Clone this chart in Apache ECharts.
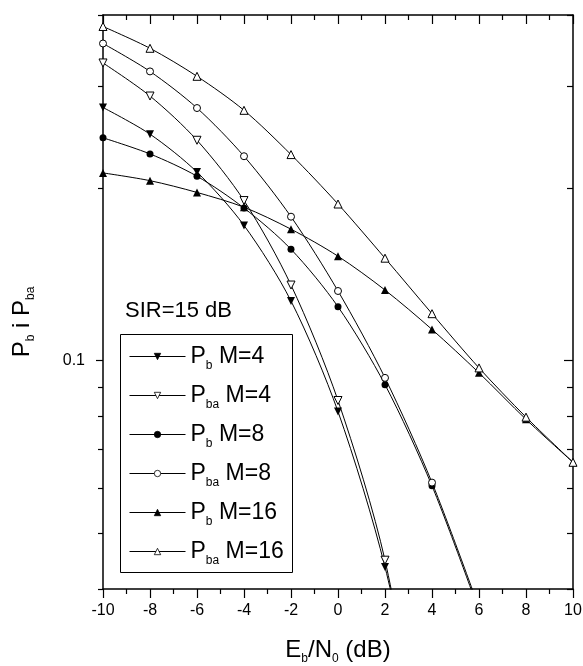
<!DOCTYPE html>
<html>
<head>
<meta charset="utf-8">
<script src="https://cdn.jsdelivr.net/npm/echarts@6/dist/echarts.min.js"></script>
<style>
  html, body { margin: 0; padding: 0; background: #fff; }
  #main { width: 583px; height: 666px; }
</style>
</head>
<body>
<div id="main"></div>
<script>
// Eb/N0 (dB)
var ebn0 = [-10, -8, -6, -4, -2, 0, 2, 4, 6, 8, 10];
// values (last points run off the bottom of the axis)
var pbM4   = [0.276, 0.248, 0.213, 0.172, 0.127, 0.0815, 0.0437, 0.018];
var pbaM4  = [0.330, 0.289, 0.242, 0.190, 0.1354, 0.0852, 0.0449, 0.016];
var pbM8   = [0.2444, 0.2291, 0.2095, 0.1844, 0.1563, 0.1241, 0.0908, 0.0605, 0.0366];
var pbaM8  = [0.3568, 0.319, 0.2754, 0.227, 0.1781, 0.1322, 0.0933, 0.0613, 0.0371];
var pbM16  = [0.2123, 0.2058, 0.1963, 0.185, 0.1694, 0.152, 0.1327, 0.1133, 0.0952, 0.079, 0.0665];
var pbaM16 = [0.382, 0.350, 0.3128, 0.2729, 0.2285, 0.1874, 0.1508, 0.1207, 0.0971, 0.0797, 0.0665];

var yMajor = [0.1];
var yMinor = [0.04, 0.05, 0.06, 0.07, 0.08, 0.09, 0.2, 0.3, 0.4];

var FONT = 'Liberation Sans, Arial, sans-serif';
var downTri = 'path://M0,0 L10,0 L5,9 Z';
var upTri = 'path://M5,0 L10,9 L0,9 Z';

function pairs(vals) {
  return vals.map(function (v, i) { return [ebn0[i], v]; });
}

function subRich(big) {
  return {
    p: { fontSize: big, fontFamily: FONT, color: '#000', lineHeight: 30, verticalAlign: 'middle' },
    s: { fontSize: 12, fontFamily: FONT, color: '#000', lineHeight: 30, verticalAlign: 'bottom' }
  };
}
function subRichFill(big) {
  var r = subRich(big);
  r.p.fill = '#000';
  r.s.fill = '#000';
  return r;
}

var legendText = {
  'Pb M=4':   '{p|P}{s|b}{p| M=4}',
  'Pba M=4':  '{p|P}{s|ba}{p| M=4}',
  'Pb M=8':   '{p|P}{s|b}{p| M=8}',
  'Pba M=8':  '{p|P}{s|ba}{p| M=8}',
  'Pb M=16':  '{p|P}{s|b}{p| M=16}',
  'Pba M=16': '{p|P}{s|ba}{p| M=16}'
};

function mkSeries(name, vals, symbol, open, size) {
  return {
    name: name,
    type: 'line',
    data: pairs(vals),
    smooth: 0.3,
    symbol: symbol,
    symbolSize: size,
    showAllSymbol: true,
    lineStyle: { color: '#000', width: 1 },
    itemStyle: open ? { color: '#fff', borderColor: '#000', borderWidth: 1 } : { color: '#000', borderColor: '#000', borderWidth: 0 },
    emphasis: { disabled: true }
  };
}

function yAxisDef(pos, ticks, isMajor, inside, showLine, showLabel) {
  return {
    type: 'log',
    logBase: 10,
    position: pos,
    min: 0.04,
    max: 0.4,
    axisLine: { show: showLine, onZero: false, lineStyle: { color: '#000', width: 1.5 } },
    axisTick: { show: true, inside: inside, customValues: ticks, length: isMajor ? (inside ? 9 : 7) : (inside ? 6 : 5), lineStyle: { color: '#000', width: 1.2 } },
    axisLabel: showLabel ? {
      show: true, customValues: [0.1], margin: 18, color: '#000', fontSize: 16, fontFamily: FONT,
      formatter: function (v) { return '0.1'; }
    } : { show: false },
    splitLine: { show: false },
    minorTick: { show: false }
  };
}

var chart = echarts.init(document.getElementById('main'));

var option = {
  animation: false,
  backgroundColor: '#fff',
  grid: { left: 103, right: 10, top: 15, bottom: 77, containLabel: false, outerBoundsMode: 'none' },
  legend: {
    orient: 'vertical',
    left: 129,
    top: 345,
    padding: 0,
    itemWidth: 56,
    itemHeight: 8,
    itemGap: 12.5,
    data: ['Pb M=4', 'Pba M=4', 'Pb M=8', 'Pba M=8', 'Pb M=16', 'Pba M=16'],
    formatter: function (name) { return legendText[name]; },
    lineStyle: { width: 1 },
    itemStyle: { borderWidth: 0.8 },
    textStyle: { rich: subRich(23) }
  },
  graphic: [
    {
      type: 'rect',
      shape: { x: 120.5, y: 334.5, width: 172, height: 238 },
      style: { fill: 'none', stroke: '#000', lineWidth: 1 }
    },
    {
      type: 'text',
      left: 125,
      top: 300,
      style: { text: 'SIR=15 dB', fontSize: 22, fontFamily: FONT, fill: '#000' }
    },
    {
      // y axis title
      type: 'text',
      x: 22,
      y: 322,
      rotation: Math.PI / 2,
      style: {
        text: '{p|P}{s|b}{p| i P}{s|ba}',
        rich: subRichFill(24),
        align: 'center',
        verticalAlign: 'middle'
      }
    }
  ],
  xAxis: [
    {
      type: 'value',
      position: 'bottom',
      min: -10,
      max: 10,
      interval: 2,
      name: '{p|E}{s|b}{p|/N}{s|0}{p| (dB)}',
      nameLocation: 'middle',
      nameGap: 46,
      nameTextStyle: { rich: subRich(24) },
      axisLine: { onZero: false, lineStyle: { color: '#000', width: 1.5 } },
      axisTick: { inside: false, length: 9, lineStyle: { color: '#000', width: 1.2 } },
      minorTick: { show: true, splitNumber: 2, length: 5, lineStyle: { color: '#000', width: 1.2 } },
      axisLabel: { color: '#000', fontSize: 16, fontFamily: FONT, margin: 14 },
      splitLine: { show: false },
      minorSplitLine: { show: false }
    },
    {
      type: 'value',
      position: 'top',
      min: -10,
      max: 10,
      interval: 2,
      axisLine: { onZero: false, lineStyle: { color: '#000', width: 1.5 } },
      axisTick: { inside: true, length: 9, lineStyle: { color: '#000', width: 1.2 } },
      minorTick: { show: true, splitNumber: 2, length: 5, lineStyle: { color: '#000', width: 1.2 } },
      axisLabel: { show: false },
      splitLine: { show: false }
    }
  ],
  yAxis: [
    yAxisDef('left', yMajor, true, false, true, true),
    yAxisDef('left', yMinor, false, false, false, false),
    yAxisDef('right', yMajor, true, true, true, false),
    yAxisDef('right', yMinor, false, true, false, false)
  ],
  series: [
    mkSeries('Pb M=4', pbM4, downTri, false, 8),
    mkSeries('Pba M=4', pbaM4, downTri, true, 8),
    mkSeries('Pb M=8', pbM8, 'circle', false, 7),
    mkSeries('Pba M=8', pbaM8, 'circle', true, 7),
    mkSeries('Pb M=16', pbM16, upTri, false, 8),
    mkSeries('Pba M=16', pbaM16, upTri, true, 8)
  ]
};

chart.setOption(option);
</script>
</body>
</html>
